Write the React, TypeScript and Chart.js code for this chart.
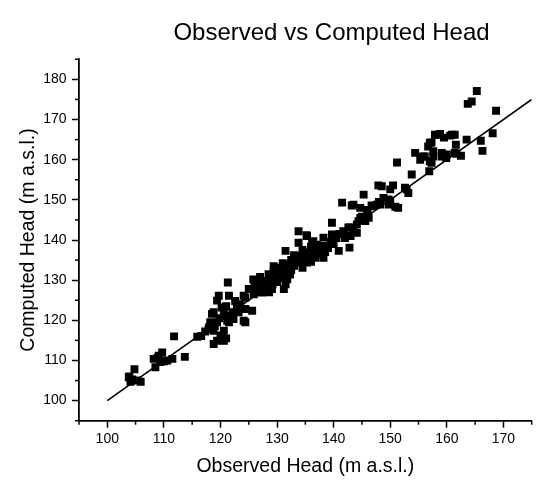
import React, { useEffect, useRef } from "react";
import { Chart, registerables } from "chart.js";

Chart.register(...registerables);

const TITLE = "Observed vs Computed Head";
const X_LABEL = "Observed Head (m a.s.l.)";
const Y_LABEL = "Computed Head (m a.s.l.)";

const X_MIN = 95;
const X_MAX = 175;
const Y_MIN = 95;
const Y_MAX = 185;

// 1:1 reference line
const LINE_X = [100, 175];
const LINE_Y = [100, 175];

const OBSERVED = [
  103.8, 104.1, 103.9, 104.8, 105.3, 105.9, 104.4,
  108.2, 108.5, 109.1, 109.4, 109.7, 110.6, 111.5, 110.0, 108.9,
  111.8, 113.7, 115.9, 116.6,
  117.3, 117.9, 118.8, 118.0, 119.0, 120.6, 120.0, 118.8, 120.6, 119.4, 121.0,
  118.5, 118.2, 119.4, 120.9, 121.2, 121.5, 122.1, 122.3, 124.1, 124.4,
  118.8, 120.6, 119.8, 122.9, 123.5, 124.4, 125.6, 119.4, 119.7, 121.5,
  124.1, 124.4, 122.6, 121.0, 120.2, 123.2,
  125.9, 126.2, 127.3, 127.3, 121.3, 125.8, 128.0, 128.8, 129.7, 129.1,
  131.2, 131.5, 126.5, 127.0, 128.3, 128.6, 129.2, 130.0, 130.5, 131.0,
  131.8, 125.0, 126.0, 127.0, 128.5, 130.0,
  129.4, 131.2, 133.2, 131.5, 133.8, 135.3, 133.8, 136.2, 129.4, 130.0,
  130.6, 132.0, 132.3, 133.2, 133.7, 134.9, 135.3, 136.8, 136.6, 138.1,
  138.2, 140.9, 142.8, 136.4, 138.2, 139.7, 135.2, 132.5, 133.0, 134.0,
  134.5, 135.0, 135.8, 136.0, 137.0, 137.5, 138.5, 139.0, 139.5, 140.0,
  137.0, 136.0, 134.5, 133.0, 132.5, 131.0,
  141.7, 142.9, 144.1, 139.7, 144.4, 145.9, 141.5, 143.2, 144.7, 146.7,
  145.3, 148.5, 142.6, 144.1, 145.6, 144.7, 143.5, 147.6, 150.0, 149.7,
  151.4, 147.9, 150.5, 150.0, 152.9, 153.2, 147.0, 148.2, 149.7, 150.9,
  152.6, 140.5, 141.0, 142.0, 143.0, 143.5, 145.0, 146.2, 146.0, 148.0,
  148.8,
  153.8, 151.2, 156.9, 157.3, 154.4, 155.8, 157.6, 159.1, 159.9, 161.4,
  157.0, 158.5, 160.9, 165.3, 164.4, 163.7, 168.7, 168.1, 166.0, 166.3,
  163.5, 161.4, 160.6, 158.8, 157.9, 157.3, 156.7, 161.6, 160.0, 161.7,
  159.1, 157.6, 156.1, 155.3, 157.0, 162.5, 159.5,
];

const COMPUTED = [
  105.8, 104.7, 106.0, 107.8, 105.0, 104.7, 105.3,
  110.4, 108.3, 111.2, 109.6, 112.0, 110.0, 110.4, 109.8, 110.7,
  116.0, 110.9, 115.9, 116.1,
  117.2, 117.8, 117.4, 118.3, 118.6, 117.4, 116.2, 114.1, 114.9, 114.9, 115.5,
  121.6, 119.5, 119.5, 121.1, 119.9, 119.5, 122.0, 120.3, 119.9, 119.5,
  122.0, 122.4, 120.5, 123.2, 124.0, 122.8, 122.4, 124.9, 126.1, 126.1,
  126.1, 125.7, 124.8, 123.5, 123.2, 122.0,
  126.5, 127.2, 126.9, 128.6, 129.4, 130.2, 129.8, 130.2, 130.2, 127.8,
  127.8, 129.0, 128.0, 129.6, 128.4, 127.0, 129.0, 129.5, 130.6, 131.5,
  130.2, 127.8, 128.6, 130.8, 131.5, 132.2,
  133.5, 132.3, 134.4, 137.3, 139.3, 141.0, 142.2, 139.3, 132.3, 131.0,
  133.1, 134.0, 131.4, 134.8, 136.0, 136.9, 134.4, 135.6, 137.7, 138.5,
  135.6, 137.3, 138.1, 139.7, 140.6, 141.4, 141.2, 132.5, 133.6, 134.6,
  133.1, 135.5, 136.5, 134.6, 136.5, 137.2, 137.0, 138.0, 139.5, 139.0,
  138.8, 138.3, 137.5, 136.2, 135.0, 134.2,
  142.2, 143.1, 141.8, 144.3, 144.7, 146.8, 149.3, 148.6, 148.0, 148.6,
  151.3, 153.4, 143.1, 143.9, 144.7, 145.5, 148.8, 148.8, 149.7, 148.8,
  148.0, 153.6, 153.6, 152.6, 152.6, 151.7, 148.4, 148.8, 150.1, 148.3,
  153.0, 140.5, 141.5, 140.5, 141.0, 142.5, 145.8, 145.5, 147.5, 149.5,
  150.5,
  156.3, 159.3, 157.1, 159.2, 161.7, 160.8, 162.1, 161.7, 160.4, 161.7,
  164.2, 166.2, 166.2, 177.1, 174.5, 173.9, 172.2, 166.6, 164.7, 162.2,
  165.0, 166.2, 166.0, 166.4, 166.2, 164.3, 163.3, 163.7, 161.3, 161.5,
  160.8, 160.8, 160.8, 160.0, 159.6, 161.0, 165.5,
];

const FONT = '"Liberation Sans", Arial, sans-serif';

const minorTicks = {
  id: "minorTicks",
  afterDraw(chart: any) {
    const ctx = chart.ctx;
    ctx.save();
    ctx.strokeStyle = "#000";
    ctx.lineWidth = 1.5;
    const xs = chart.scales.x;
    const ys = chart.scales.y;
    const len = 4;
    for (let v = X_MIN; v <= X_MAX; v += 5) {
      if (v % 10 === 0) continue;
      const px = xs.getPixelForValue(v);
      ctx.beginPath();
      ctx.moveTo(px, chart.chartArea.bottom);
      ctx.lineTo(px, chart.chartArea.bottom + len);
      ctx.stroke();
    }
    for (let v = Y_MIN; v <= Y_MAX; v += 5) {
      if (v % 10 === 0) continue;
      const py = ys.getPixelForValue(v);
      ctx.beginPath();
      ctx.moveTo(chart.chartArea.left, py);
      ctx.lineTo(chart.chartArea.left - len, py);
      ctx.stroke();
    }
    ctx.restore();
  },
};

const titlePlugin = {
  id: "offsetTitle",
  afterDraw(chart: any) {
    const ctx = chart.ctx;
    ctx.save();
    ctx.font = `24px ${FONT}`;
    ctx.fillStyle = "#000";
    ctx.textAlign = "center";
    ctx.textBaseline = "alphabetic";
    ctx.fillText(TITLE, 331.5, 39.5);
    ctx.restore();
  },
};

export default function App() {
  const ref = useRef<HTMLCanvasElement | null>(null);

  useEffect(() => {
    if (!ref.current) return;
    const points = OBSERVED.map((x, i) => ({ x, y: COMPUTED[i] }));
    const line = LINE_X.map((x, i) => ({ x, y: LINE_Y[i] }));
    const tickColor = (c: any) =>
      c.tick && c.tick.value % 10 === 0 ? "#000" : "rgba(0,0,0,0)";
    const chart = new Chart(ref.current, {
      type: "scatter",
      data: {
        datasets: [
          {
            data: line,
            showLine: true,
            borderColor: "#000",
            borderWidth: 1.6,
            pointRadius: 0,
            pointHoverRadius: 0,
          },
          {
            data: points,
            pointStyle: "rect",
            pointRadius: 5.6,
            pointHoverRadius: 5.6,
            backgroundColor: "#000",
            borderWidth: 0,
          },
        ],
      },
      options: {
        animation: false,
        responsive: true,
        maintainAspectRatio: false,
        events: [],
        layout: { padding: { top: 59.3, right: 18.3, bottom: 0, left: 0 } },
        plugins: {
          legend: { display: false },
          tooltip: { enabled: false },
          title: { display: false },
        },
        scales: {
          x: {
            type: "linear",
            min: X_MIN,
            max: X_MAX,
            afterFit: (s: any) => {
              s.height = 69.3;
            },
            border: { display: true, color: "#000", width: 1.8 },
            grid: {
              display: true,
              drawOnChartArea: false,
              drawTicks: true,
              tickLength: 7,
              tickWidth: 1.5,
              tickColor,
            },
            ticks: {
              stepSize: 5,
              autoSkip: false,
              maxRotation: 0,
              padding: 3,
              color: "#000",
              font: { family: FONT, size: 14 },
              callback: (v: any) => (Number(v) % 10 === 0 ? String(v) : ""),
            },
            title: {
              display: true,
              text: X_LABEL,
              color: "#000",
              font: { family: FONT, size: 19.5 },
              padding: { top: 0, bottom: 11.3 },
            },
          },
          y: {
            type: "linear",
            min: Y_MIN,
            max: Y_MAX,
            afterFit: (s: any) => {
              s.width = 79;
            },
            border: { display: true, color: "#000", width: 1.8 },
            grid: {
              display: true,
              drawOnChartArea: false,
              drawTicks: true,
              tickLength: 7,
              tickWidth: 1.5,
              tickColor,
            },
            ticks: {
              stepSize: 5,
              autoSkip: false,
              padding: 5.5,
              color: "#000",
              font: { family: FONT, size: 14 },
              callback: (v: any) => (Number(v) % 10 === 0 ? String(v) : ""),
            },
            title: {
              display: true,
              text: Y_LABEL,
              color: "#000",
              font: { family: FONT, size: 19.5 },
              padding: { top: 17.3, bottom: 0 },
            },
          },
        },
      },
      plugins: [minorTicks, titlePlugin],
    });
    return () => chart.destroy();
  }, []);

  return (
    <div
      style={{
        position: "fixed",
        left: 0,
        top: 0,
        width: 550,
        height: 490,
        background: "#fff",
      }}
    >
      <canvas ref={ref} />
    </div>
  );
}
